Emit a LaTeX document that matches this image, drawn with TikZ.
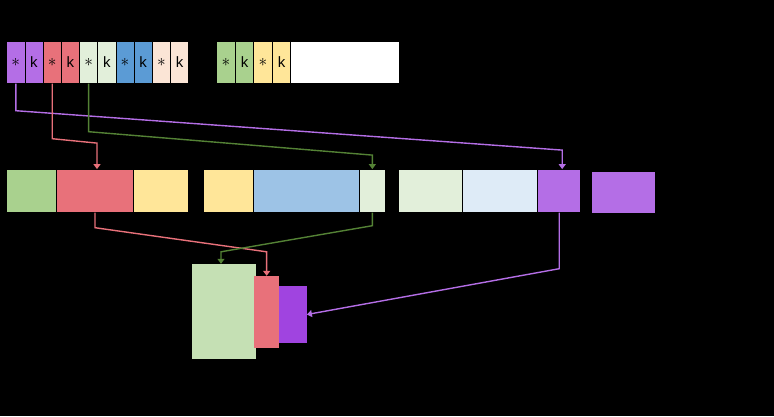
\documentclass[tikz,border=0pt]{standalone}
\usepackage{fontspec}
\setmainfont{Liberation Sans}
\usetikzlibrary{arrows.meta,calc}

\definecolor{pu}{HTML}{B46EE6}
\definecolor{rd}{HTML}{E8717A}
\definecolor{lg}{HTML}{E2EFDA}
\definecolor{bl}{HTML}{5B9BD5}
\definecolor{pe}{HTML}{FBE5D6}
\definecolor{gr}{HTML}{A9D18E}
\definecolor{ye}{HTML}{FFE699}
\definecolor{lb}{HTML}{9DC3E6}
\definecolor{vb}{HTML}{DEEBF7}
\definecolor{mg}{HTML}{C5E0B4}
\definecolor{dp}{HTML}{A044E0}
\definecolor{dg}{HTML}{548235}

\newcommand{\st}{\raisebox{0.5pt}{\fontsize{19}{19}\selectfont$\ast$}}

\begin{document}
\begin{tikzpicture}[x=1pt, y=-1pt,
    cell/.style={draw=black, line width=0.8pt, minimum height=42pt, inner sep=0pt,
                 font=\fontsize{15}{15}\selectfont},
    row/.style={draw=black, line width=0.8pt, minimum height=42.8pt, inner sep=0pt},
    blk/.style={inner sep=0pt},
    link/.style={line width=1.4pt, -{Triangle[length=5pt,width=7pt]}}]

  \fill[black] (0,0) rectangle (774,416);
  \useasboundingbox (0,0) rectangle (774,416);

  % top rows
  \foreach \i/\c/\t in {1/pu/\st, 2/pu/k, 3/rd/\st, 4/rd/k, 5/lg/\st,
                        6/lg/k, 7/bl/\st, 8/bl/k, 9/pe/\st, 10/pe/k}
    \node[cell, fill=\c, minimum width=18.2pt] (kv\i) at ({6.7+18.2*(\i-0.5)}, 62.3) {\t};

  \foreach \i/\c/\t in {1/gr/\st, 2/gr/k, 3/ye/\st, 4/ye/k}
    \node[cell, fill=\c, minimum width=18.5pt] (nx\i) at ({216.8+18.5*(\i-0.5)}, 62.3) {\t};
  \node[cell, fill=white, minimum width=108.2pt] (nx5) at (344.9, 62.3) {};

  % middle row
  \node[row, fill=gr, minimum width=50pt]   (a1) at (31.7, 190.9) {};
  \node[row, fill=rd, minimum width=76.6pt] (a2) at (95, 190.9) {};
  \node[row, fill=ye, minimum width=55pt]   (a3) at (160.8, 190.9) {};

  \node[row, fill=ye, minimum width=50pt]    (b1) at (228.3, 190.9) {};
  \node[row, fill=lb, minimum width=105.7pt] (b2) at (306.15, 190.9) {};
  \node[row, fill=lg, minimum width=26.7pt]  (b3) at (372.35, 190.9) {};

  \node[row, fill=lg, minimum width=64.4pt] (c1) at (430.5, 190.9) {};
  \node[row, fill=vb, minimum width=75pt]   (c2) at (500.2, 190.9) {};
  \node[row, fill=pu, minimum width=43pt]   (c3) at (559.2, 190.9) {};

  \node[blk, fill=pu, minimum width=63pt, minimum height=41pt] (d) at (623.5, 192.2) {};

  % bottom blocks
  \node[blk, fill=mg, minimum width=63.4pt, minimum height=95.3pt] (g) at (224, 311.65) {};
  \node[blk, fill=rd, minimum width=25.3pt, minimum height=71.7pt] (r) at (266.65, 311.85) {};
  \node[blk, fill=dp, minimum width=27.4pt, minimum height=57.6pt] (p) at (293, 314.5) {};

  % links
  \draw[link, pu] (kv1.south) -- ++(0,27) -- ($(c3.north)+(3,-19)$) -- ($(c3.north)+(3,0)$);
  \draw[link, rd] (kv3.south) -- ++(0,55) -- ($(a2.north)+(2,-26)$) -- ($(a2.north)+(2,0)$);
  \draw[link, dg] (kv5.south) -- ++(0,48) -- ($(b3.north)+(0,-14)$) -- (b3.north);

  \draw[link, rd] (a2.south) -- ++(0,15) -- ($(r.north)+(0,-24)$) -- (r.north);
  \draw[link, dg] (b3.south) -- ++(0,13) -- ($(g.north)+(-3,-12)$) -- ($(g.north)+(-3,0)$);
  \draw[link, pu] (c3.south) -- ++(0,56) -- (p.east);

\end{tikzpicture}
\end{document}
